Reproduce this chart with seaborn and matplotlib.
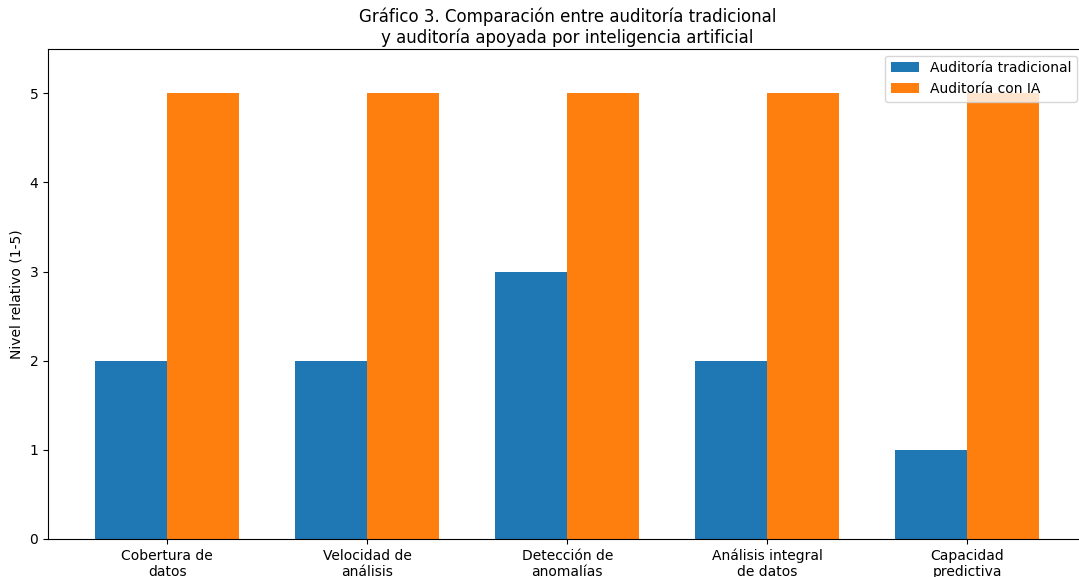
import pandas as pd
import seaborn as sns
import matplotlib.pyplot as plt

# datos del grafico
criterios = ['Cobertura de\ndatos', 'Velocidad de\nanálisis', 'Detección de\nanomalías',
             'Análisis integral\nde datos', 'Capacidad\npredictiva']
tradicional = [2, 2, 3, 2, 1]
con_ia = [5, 5, 5, 5, 5]
series = ['Auditoría tradicional', 'Auditoría con IA']
colores = ['#1f77b4', '#ff7f0e']

df = pd.DataFrame({
    'criterio': criterios * 2,
    'nivel': tradicional + con_ia,
    'tipo': [series[0]] * len(criterios) + [series[1]] * len(criterios),
})

fig = plt.figure(figsize=(10.79, 5.77), dpi=100)
# el grafico original queda recortado por la derecha
ax = fig.add_axes([48 / 1079, 1 - 539 / 577, (1086.4 - 48) / 1079, (539 - 48.7) / 577])

sns.barplot(data=df, x='criterio', y='nivel', hue='tipo', palette=colores,
            saturation=1, width=0.72, ax=ax, linewidth=0)

ax.set_xlim(-0.596, 4.596)
ax.set_ylim(0, 5.5)
ax.set_xlabel('')
ax.set_ylabel('Nivel relativo (1-5)')
ax.set_title('Gráfico 3. Comparación entre auditoría tradicional\ny auditoría apoyada por inteligencia artificial',
             fontsize=12, pad=4)
ax.legend(loc='upper right', bbox_to_anchor=(0.9975, 1))

fig.savefig('out.png', dpi=100)
